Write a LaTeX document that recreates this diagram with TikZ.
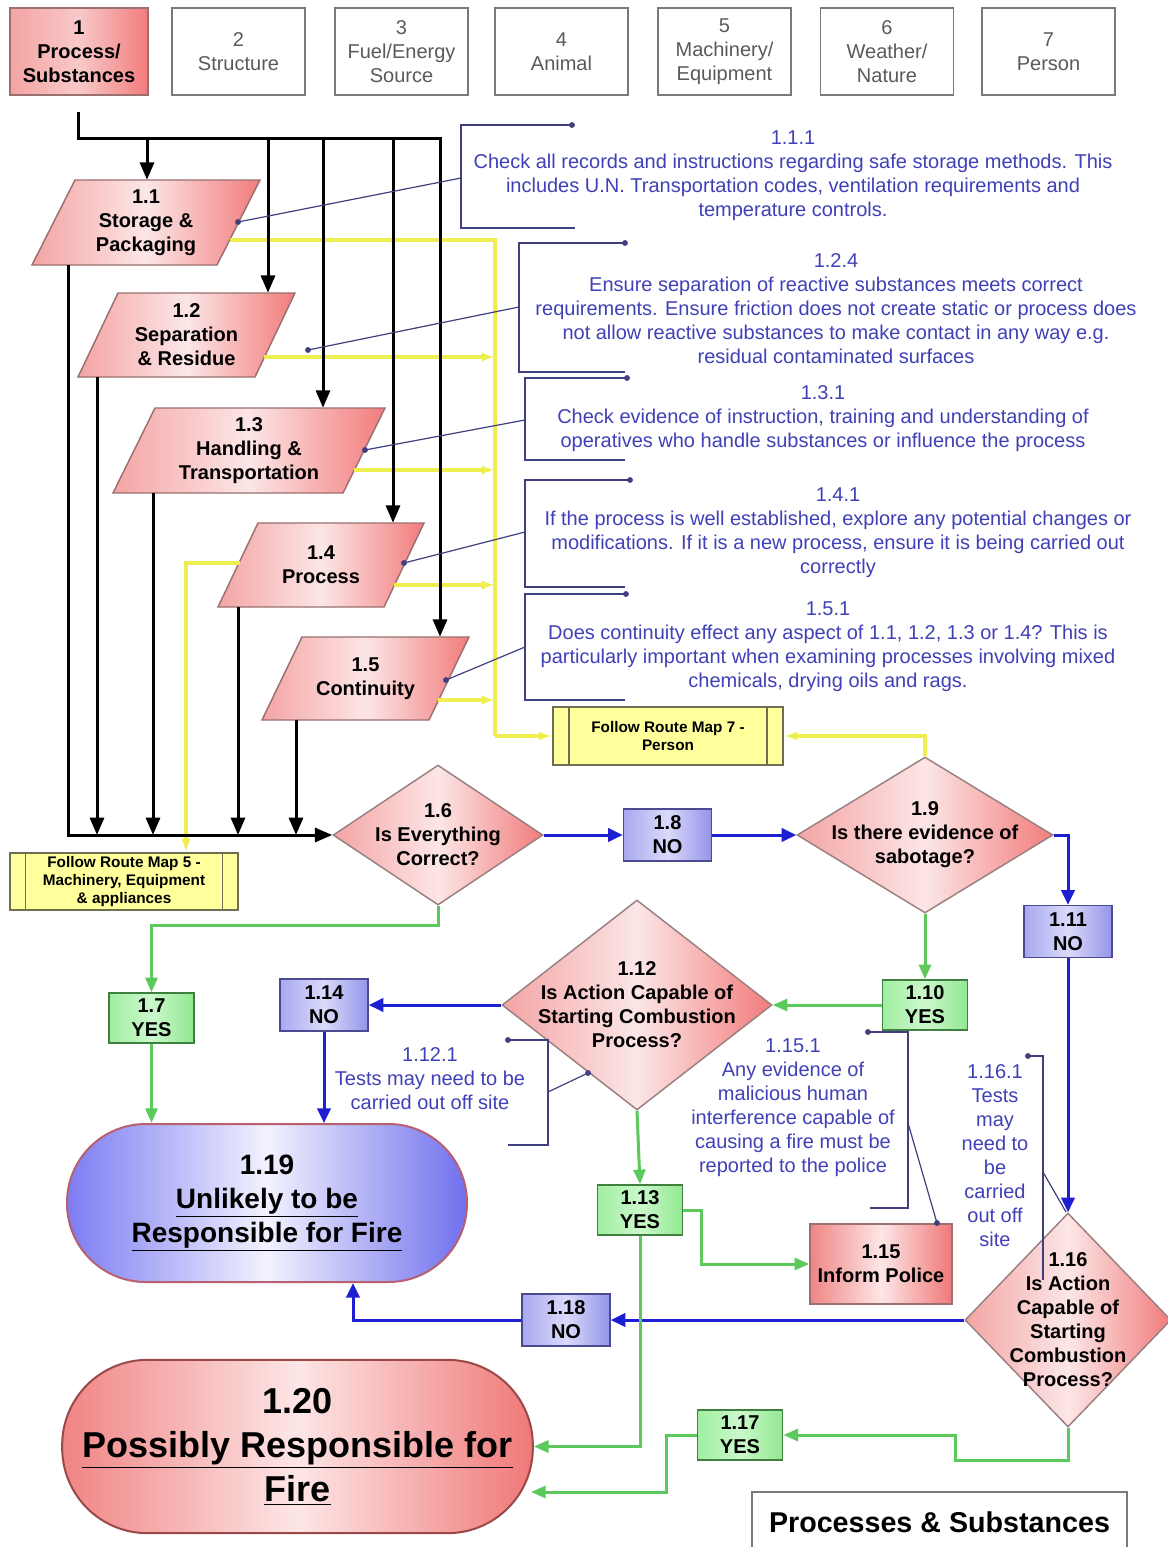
\documentclass[tikz,border=0pt]{standalone}
\usepackage{fontspec}
\setmainfont{Liberation Sans}
\usetikzlibrary{arrows.meta,shapes.geometric,calc}
\definecolor{pkL}{HTML}{F4A4A4}
\definecolor{pkM}{HTML}{FCE6E6}
\definecolor{pkR}{HTML}{F27C7C}
\definecolor{pkB}{HTML}{9A7070}
\definecolor{diaB}{HTML}{9A8080}
\definecolor{blL}{HTML}{A8A8F0}
\definecolor{blM}{HTML}{DADAFA}
\definecolor{blR}{HTML}{9494EA}
\definecolor{blB}{HTML}{4A4A90}
\definecolor{grL}{HTML}{A0EEA0}
\definecolor{grM}{HTML}{CCF8CC}
\definecolor{grR}{HTML}{90E890}
\definecolor{grB}{HTML}{3F7F3F}
\definecolor{ylF}{HTML}{FFFF9C}
\definecolor{ylB}{HTML}{6E6E50}
\definecolor{uL}{HTML}{7C7CF2}
\definecolor{uM}{HTML}{F2F2FF}
\definecolor{uR}{HTML}{7070EE}
\definecolor{uB}{HTML}{B86070}
\definecolor{pL}{HTML}{F08484}
\definecolor{pM}{HTML}{FDE6E6}
\definecolor{pR}{HTML}{F07878}
\definecolor{pB}{HTML}{9A4848}
\definecolor{hdrB}{HTML}{7A7A7A}
\definecolor{hdrT}{HTML}{5A5A5A}
\definecolor{fBlue}{HTML}{1E1ED2}
\definecolor{fGreen}{HTML}{5BC95B}
\definecolor{fYel}{HTML}{EEEE50}
\definecolor{annoT}{HTML}{4040B8}
\definecolor{annoL}{HTML}{404080}
\newcommand\fzA{\fontsize{15}{18}\selectfont}
\newcommand\fzR{\fontsize{11.5}{13.5}\selectfont}
\newcommand\fzN{\fontsize{21}{25.5}\selectfont}
\newcommand\fzT{\fontsize{27}{33}\selectfont}
\newcommand\fzF{\fontsize{21.5}{26}\selectfont}
\tikzset{
 hdr/.style={draw=hdrB, line width=1.1pt, fill=white, minimum width=99.75pt, minimum height=65.25pt, align=center, inner sep=0pt, text=hdrT, font=\fzA},
 hdra/.style={draw=pkB, line width=1.1pt, left color=pkL, right color=pkR, middle color=pkM!55!pkL, minimum width=103.5pt, minimum height=65.25pt, align=center, inner sep=0pt, text=black, font=\fzA\bfseries},
 pgshade/.style={left color=pkL, right color=pkR, middle color=pkM, draw=pkB, line width=1.1pt},
 pgnode/.style={inner sep=0pt, align=center, font=\fzA\bfseries},
 dia/.style={diamond, draw=diaB, line width=1.1pt, left color=pkL, right color=pkR, middle color=pkM, inner sep=0pt},
 ntext/.style={align=center, inner sep=0pt, font=\fzA\bfseries},
 bbox/.style={draw=blB, line width=1.1pt, left color=blL, right color=blR, middle color=blM, align=center, inner sep=0pt, font=\fzA\bfseries, minimum width=66pt, minimum height=39pt},
 gbox/.style={draw=grB, line width=1.1pt, left color=grL, right color=grR, middle color=grM, align=center, inner sep=0pt, font=\fzA\bfseries, minimum width=64pt, minimum height=37.5pt},
 rbox/.style={draw=pkB, line width=1.1pt, left color=pL, right color=pR, middle color=pM, align=center, inner sep=0pt, font=\fzA\bfseries, minimum width=106.5pt, minimum height=60pt},
 rmap/.style={draw=ylB, line width=1.1pt, fill=ylF, align=center, inner sep=0pt, font=\fzR\bfseries},
 rmline/.style={draw=ylB, line width=1.1pt},
 anno/.style={align=center, inner sep=0pt, text=annoT, font=\fzA},
 annol/.style={draw=annoL, line width=0.9pt},
 adot/.style={fill=annoL},
 blk/.style={line width=2.25pt, draw=black, -{Triangle[length=13pt,width=10.5pt]}},
 blkl/.style={line width=2.25pt, draw=black},
 blu/.style={line width=2.25pt, draw=fBlue, -{Triangle[length=11pt,width=10pt]}},
 grn/.style={line width=2.25pt, draw=fGreen, -{Triangle[length=11pt,width=9pt]}},
 ylw/.style={line width=3pt, draw=fYel, -{Latex[length=10pt,width=7pt]}},
 ylwl/.style={line width=3pt, draw=fYel},
}
\newcommand\pgram[7]{%
  \shadedraw[pgshade] (#2,#3) -- ++(#5,0) -- ++(#6,#4-#3) -- ++(-#5,0) -- cycle;
  \node[pgnode, minimum width={(#5+#6)*0.75pt}, minimum height={(#3-#4)*0.75pt}] (#1) at ({#2+(#5+#6)/2},{(#3+#4)/2}) {#7};
}
\begin{document}
\begin{tikzpicture}[x=0.75pt,y=-0.75pt]
\useasboundingbox (0,0) rectangle (1168,1547);
\fill[white] (0,0) rectangle (1168,1547);

% header
\node[hdra] (h1) at (79,51.5) {1\\Process/\\Substances};
\node[hdr] (h2) at (238.5,51.5) {2\\Structure};
\node[hdr] (h3) at (401.5,51.5) {3\\Fuel/Energy\\Source};
\node[hdr] (h4) at (561.5,51.5) {4\\Animal};
\node[hdr] (h5) at (724.5,51.5) {5\\Machinery/\\Equipment};
\node[hdr] (h6) at (887,51.5) {6\\Weather/\\Nature};
\node[hdr] (h7) at (1048.5,51.5) {7\\Person};

% yellow connector points
\coordinate (y11) at (230,240);
\coordinate (ytr) at (495,240);
\coordinate (y12) at (264,357);
\coordinate (y13) at (354,470);
\coordinate (y14) at (394,585);
\coordinate (y15) at (438,700);
\coordinate (y14l) at (240,563);

% parallelograms
\pgram{p11}{32}{265}{180}{185}{43}{1.1\\Storage \&\\Packaging}
\pgram{p12}{78}{377}{293}{177}{40}{1.2\\Separation\\\& Residue}
\pgram{p13}{113}{493}{408}{230}{42}{1.3\\Handling \&\\Transportation}
\pgram{p14}{218}{607}{523}{166}{40}{1.4\\Process}
\pgram{p15}{262}{720}{637}{167}{40}{1.5\\Continuity}

% route maps
\node[rmap, minimum width=171pt, minimum height=42.75pt] (rm5) at (124,881.5) {Follow Route Map 5 -\\Machinery, Equipment\\\& appliances};
\draw[rmline] ([xshift=12pt]rm5.north west) -- ([xshift=12pt]rm5.south west);
\draw[rmline] ([xshift=-12pt]rm5.north east) -- ([xshift=-12pt]rm5.south east);
\node[rmap, minimum width=172.5pt, minimum height=43.5pt] (rm7) at (668,736) {Follow Route Map 7 -\\Person};
\draw[rmline] ([xshift=12.5pt]rm7.north west) -- ([xshift=12.5pt]rm7.south west);
\draw[rmline] ([xshift=-12.5pt]rm7.north east) -- ([xshift=-12.5pt]rm7.south east);

% diamonds
\node[dia, minimum width=157.5pt, minimum height=105pt] (d16) at (438,835) {};
\node[ntext] (t16) at (d16) {1.6\\Is Everything\\Correct?};
\node[dia, minimum width=192pt, minimum height=117pt] (d19) at (925,835) {};
\node[ntext] (t19) at (d19) {1.9\\Is there evidence of\\sabotage?};
\node[dia, minimum width=202.5pt, minimum height=157.5pt] (d112) at (637,1005) {};
\node[ntext] (t112) at (d112) {1.12\\Is Action Capable of\\Starting Combustion\\Process?};
\node[dia, minimum width=154.5pt, minimum height=160.5pt] (d116) at (1068,1320) {};
\node[ntext] (t116) at (d116) {1.16\\Is Action\\Capable of\\Starting\\Combustion\\Process?};

% small boxes
\node[bbox] (n8) at (667.5,835) {1.8\\NO};
\node[bbox] (n11) at (1068,931.5) {1.11\\NO};
\node[bbox] (n14) at (324,1005) {1.14\\NO};
\node[bbox] (n18) at (566,1320) {1.18\\NO};
\node[gbox] (n10) at (925,1005) {1.10\\YES};
\node[gbox] (n7) at (151.5,1018) {1.7\\YES};
\node[gbox] (n13) at (640,1210) {1.13\\YES};
\node[gbox] (n17) at (740,1435) {1.17\\YES};
\node[rbox] (n15) at (881,1264) {1.15\\Inform Police};

% terminals
\node[draw=uB, line width=1.5pt, rounded corners=59pt, left color=uL, right color=uR, middle color=uM, minimum width=300pt, minimum height=118.5pt, align=center, inner sep=0pt, font=\fzN\bfseries] (n19) at (267,1203) {1.19\\\underline{Unlikely to be}\\\underline{Responsible for Fire}};
\node[draw=pB, line width=1.5pt, rounded corners=64pt, left color=pL, right color=pR, middle color=pM, minimum width=353pt, minimum height=130pt, align=center, inner sep=0pt, font=\fzT\bfseries] (n20) at (297.5,1446.5) {1.20\\\underline{Possibly Responsible for}\\\underline{Fire}};

% footer
\node[draw=hdrB, line width=1.1pt, minimum width=281pt, minimum height=45pt, font=\fzF\bfseries, inner sep=0pt] (ft) at (939.5,1522) {Processes \& Substances};

% yellow connectors
\draw[ylwl] (y11) -- (ytr) -- (ytr |- rm7.west);
\draw[ylw] (ytr |- rm7.west) -- (rm7.west);
\draw[ylw] (y12) -- (y12 -| ytr);
\draw[ylw] (y13) -- (y13 -| ytr);
\draw[ylw] (y14) -- (y14 -| ytr);
\draw[ylw] (y15) -- (y15 -| ytr);
\coordinate (ym5) at ($(rm5.north)+(62,0)$);
\draw[ylw] (y14l) -| (ym5);
\draw[ylw] (d19.north) |- (rm7.east);

% black connectors
\coordinate (bs) at (78,112);
\coordinate (bc) at (78,138);
\coordinate (be) at (440,138);
\coordinate (t11) at (147,138);
\coordinate (t12) at (268,138);
\coordinate (t13) at (323,138);
\coordinate (t14) at (393,138);
\draw[blk] (bs) -- (bc) -- (be) -- (be |- p15.north);
\draw[blk] (t11) -- (t11 |- p11.north);
\draw[blk] (t12) -- (t12 |- p12.north);
\draw[blk] (t13) -- (t13 |- p13.north);
\draw[blk] (t14) -- (t14 |- p14.north);
\coordinate (bb) at (68,835);
\coordinate (c12) at (97,835);
\coordinate (c13) at (153,835);
\coordinate (c14) at (238,835);
\coordinate (c15) at (296,835);
\draw[blk] (p11.south -| bb) -- (bb) -- (d16.west);
\draw[blk] (p12.south -| c12) -- (c12);
\draw[blk] (p13.south -| c13) -- (c13);
\draw[blk] (p14.south -| c14) -- (c14);
\draw[blk] (p15.south -| c15) -- (c15);

% blue connectors
\draw[blu] (d16.east) -- (n8.west);
\draw[blu] (n8.east) -- (d19.west);
\draw[blu] (d19.east) -| (n11.north);
\draw[blu] (n11.south) -- (d116.north);
\draw[blu] (d112.west) -- (n14.east);
\draw[blu] (n14.south) -- (n14.south |- n19.north);
\draw[blu] (d116.west) -- (n18.east);
\coordinate (x19b) at ($(n19.south)+(86,0)$);
\draw[blu] (n18.west) -| (x19b);

% green connectors
\draw[grn] (d16.south) -- ++(0,20) -| (n7.north);
\draw[grn] (n7.south) -- (n7.south |- n19.north);
\draw[grn] (d19.south) -- (n10.north);
\draw[grn] (n10.west) -- (d112.east);
\draw[grn] (d112.south) -- (n13.north);
\draw[grn] (n13.east) -- ++(18,0) |- (n15.west);
\draw[grn] (n13.south) |- (n20.east);
\draw[grn] (d116.south) -- ++(0,33) -- ++(-113,0) |- (n17.east);
\coordinate (e20b) at (531,1492);
\draw[grn] (n17.west) -- ++(-30,0) |- (e20b);

% annotations
\node[anno] (a111) at (793,176) {1.1.1\\Check all records and instructions regarding safe storage methods. This\\includes U.N. Transportation codes, ventilation requirements and\\temperature controls.};
\node[anno] (a124) at (836,309) {1.2.4\\Ensure separation of reactive substances meets correct\\requirements. Ensure friction does not create static or process does\\not allow reactive substances to make contact in any way e.g.\\residual contaminated surfaces};
\node[anno] (a131) at (823,419) {1.3.1\\Check evidence of instruction, training and understanding of\\operatives who handle substances or influence the process};
\node[anno] (a141) at (838,533) {1.4.1\\If the process is well established, explore any potential changes or\\modifications. If it is a new process, ensure it is being carried out\\correctly};
\node[anno] (a151) at (828,647) {1.5.1\\Does continuity effect any aspect of 1.1, 1.2, 1.3 or 1.4? This is\\particularly important when examining processes involving mixed\\chemicals, drying oils and rags.};
\node[anno] (a1121) at (430,1079) {1.12.1\\Tests may need to be\\carried out off site};
\node[anno] (a1151) at (793,1108) {1.15.1\\Any evidence of\\malicious human\\interference capable of\\causing a fire must be\\reported to the police};
\node[anno] (a1161) at (995,1156) {1.16.1\\Tests\\may\\need to\\be\\carried\\out off\\site};

% annotation brackets and leaders
\draw[annol] (572,125) -- (461,125) -- (461,228) -- (575,228);
\draw[annol] (461,178) -- (238,222);
\fill[adot] (572,125) circle (2.2pt); \fill[adot] (238,222) circle (2.2pt);
\draw[annol] (625,243) -- (519,243) -- (519,372) -- (625,372);
\draw[annol] (519,307) -- (308,350);
\fill[adot] (625,243) circle (2.2pt); \fill[adot] (308,350) circle (2.2pt);
\draw[annol] (627,378) -- (525,378) -- (525,460) -- (625,460);
\draw[annol] (525,420) -- (365,450);
\fill[adot] (627,378) circle (2.2pt); \fill[adot] (365,450) circle (2.2pt);
\draw[annol] (630,480) -- (525,480) -- (525,587) -- (625,587);
\draw[annol] (525,532) -- (404,563);
\fill[adot] (630,480) circle (2.2pt); \fill[adot] (404,563) circle (2.2pt);
\draw[annol] (626,594) -- (525,594) -- (525,700) -- (625,700);
\draw[annol] (525,647) -- (446,680);
\fill[adot] (626,594) circle (2.2pt); \fill[adot] (446,680) circle (2.2pt);
\draw[annol] (508,1040) -- (548,1040) -- (548,1145) -- (508,1145);
\draw[annol] (548,1092) -- (588,1073);
\fill[adot] (508,1040) circle (2.2pt); \fill[adot] (588,1073) circle (2.2pt);
\draw[annol] (868,1032) -- (908,1032) -- (908,1208) -- (870,1208);
\draw[annol] (908,1123) -- (937,1223);
\fill[adot] (868,1032) circle (2.2pt); \fill[adot] (937,1223) circle (2.2pt);
\draw[annol] (1028,1056) -- (1043,1056) -- (1043,1280);
\draw[annol] (1043,1172) -- (1066,1212);
\fill[adot] (1028,1056) circle (2.2pt);
\end{tikzpicture}
\end{document}
